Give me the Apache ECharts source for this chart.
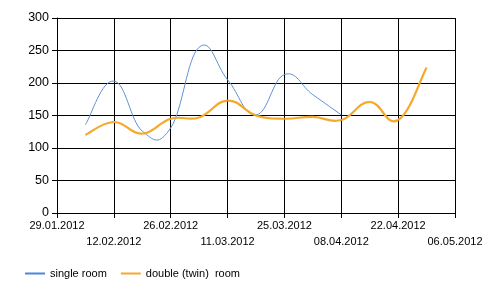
<!DOCTYPE html>
<html>
<head>
<meta charset="utf-8">
<script src="https://cdn.jsdelivr.net/npm/echarts@6/dist/echarts.min.js"></script>
<style>html,body{margin:0;padding:0;background:#fff;}#c{width:500px;height:296px;}</style>
</head>
<body>
<div id="c"></div>
<script>
const startDate = '29.01.2012';
const tickLabels = ['29.01.2012','12.02.2012','26.02.2012','11.03.2012','25.03.2012','08.04.2012','22.04.2012','06.05.2012'];
const singleDates = ['05.02.2012','12.02.2012','19.02.2012','26.02.2012','04.03.2012','11.03.2012','18.03.2012','25.03.2012','01.04.2012','08.04.2012'];
const singleValues = [136, 203, 126, 131, 255, 205, 151, 213, 182, 151];
const doubleDates = ['05.02.2012','12.02.2012','19.02.2012','26.02.2012','04.03.2012','11.03.2012','18.03.2012','25.03.2012','01.04.2012','08.04.2012','15.04.2012','22.04.2012','29.04.2012'];
const doubleValues = [120, 140, 122, 145, 147, 173, 150, 145, 148, 143, 171, 143, 224];
const seriesNames = ['single room', 'double (twin)  room'];

function toUTC(s){ const p = s.split('.').map(Number); return Date.UTC(p[2], p[1]-1, p[0]); }
function toDay(s){ return (toUTC(s) - toUTC(startDate)) / 864e5; }
const tickDays = tickLabels.map(toDay);
const tickStep = tickDays[1] - tickDays[0];

const singleData = singleDates.map((d,i)=>[toDay(d), singleValues[i]]);
const doubleData = doubleDates.map((d,i)=>[toDay(d), doubleValues[i]]);

const TENSION = 0.65;
function splineRenderer(pts, color, width){
  return function(params, api){
    const i = params.dataIndex;
    if (i >= pts.length - 1) return null;
    const c = pts.map(p => api.coord(p));
    const p0 = c[Math.max(i-1,0)], p1 = c[i], p2 = c[i+1], p3 = c[Math.min(i+2, c.length-1)];
    const k = TENSION / 3;
    return {
      type: 'bezierCurve',
      shape: {
        x1: p1[0], y1: p1[1], x2: p2[0], y2: p2[1],
        cpx1: p1[0] + k*(p2[0]-p0[0]), cpy1: p1[1] + k*(p2[1]-p0[1]),
        cpx2: p2[0] - k*(p3[0]-p1[0]), cpy2: p2[1] - k*(p3[1]-p1[1])
      },
      style: {stroke: color, lineWidth: width, fill: null}
    };
  };
}

const chart = echarts.init(document.getElementById('c'), null, {renderer:'canvas'});
const font = 'Liberation Sans, Arial, sans-serif';
const blue = '#5f91d6', orange = '#f5a82a';
chart.setOption({
  animation: false,
  textStyle: {fontFamily: font},
  grid: {left: 57, right: 45, top: 18, bottom: 83, containLabel: false},
  xAxis: {
    type: 'value', min: tickDays[0], max: tickDays[tickDays.length-1], interval: tickStep,
    axisLine: {show: true, lineStyle: {color: '#000', width: 1}},
    axisTick: {show: true, length: 5, lineStyle: {color: '#000'}},
    splitLine: {show: true, lineStyle: {color: '#000', width: 1}},
    axisLabel: {
      fontFamily: font, fontSize: 11, color: '#000', margin: 5, lineHeight: 16,
      showMinLabel: true, showMaxLabel: true, hideOverlap: false,
      formatter: function(v){ const i = Math.round((v - tickDays[0]) / tickStep); return (i % 2 ? '\n' : '') + tickLabels[i]; }
    }
  },
  yAxis: {
    type: 'value', min: 0, max: 300, interval: 50,
    axisLine: {show: true, lineStyle: {color: '#000', width: 1}},
    axisTick: {show: true, length: 5, lineStyle: {color: '#000'}},
    splitLine: {show: true, lineStyle: {color: '#000', width: 1}},
    axisLabel: {fontFamily: font, fontSize: 12.5, color: '#000', margin: 8}
  },
  legend: {
    left: 25, top: 268, padding: 0, icon: 'rect', itemWidth: 20, itemHeight: 2, itemGap: 14,
    textStyle: {fontFamily: font, fontSize: 11, color: '#000'},
    data: seriesNames
  },
  series: [
    {name: seriesNames[0], type: 'custom', itemStyle: {color: '#4a87dc'},
     renderItem: splineRenderer(singleData, blue, 1), data: singleData},
    {name: seriesNames[1], type: 'custom', itemStyle: {color: orange},
     renderItem: splineRenderer(doubleData, orange, 2.2), data: doubleData}
  ]
});
</script>
</body>
</html>
